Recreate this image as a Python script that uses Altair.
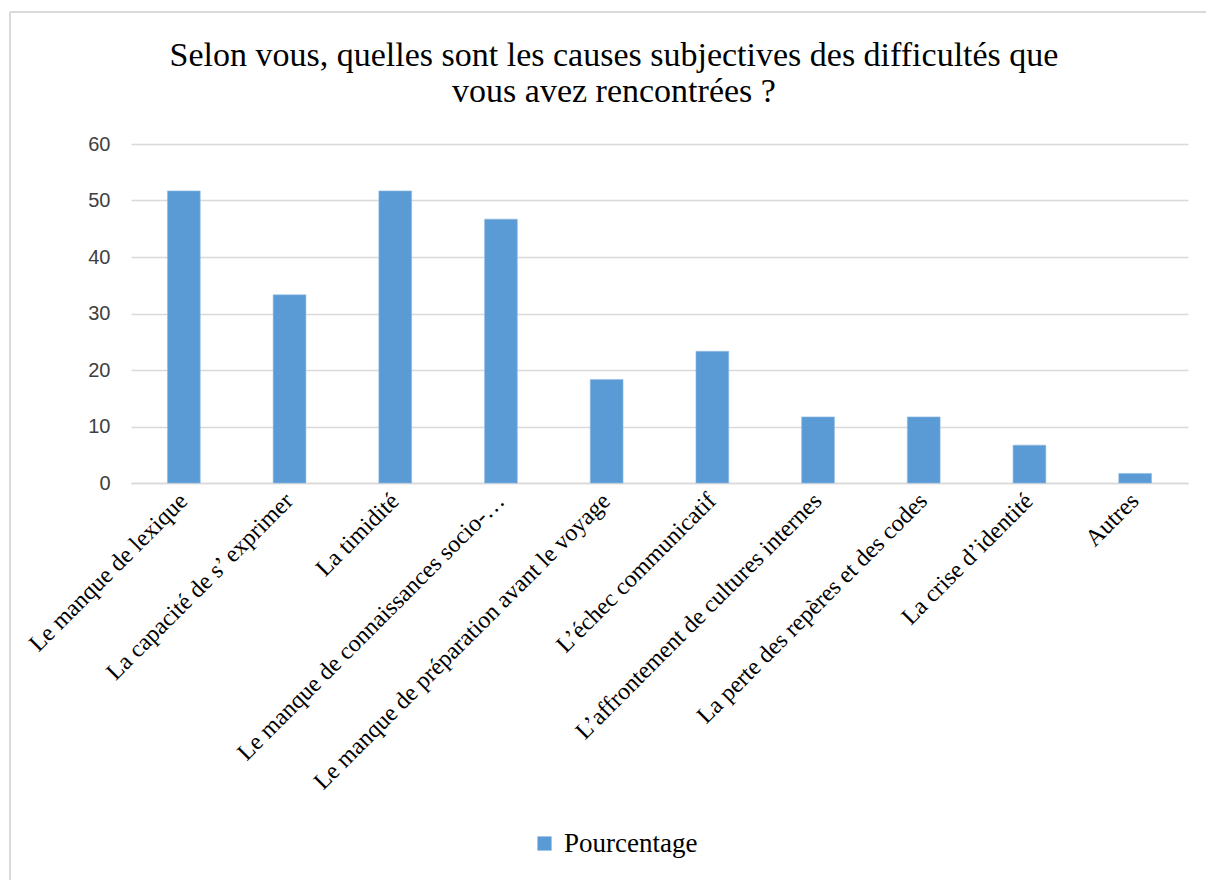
import altair as alt
import pandas as pd

categories = [
    "Le manque de lexique",
    "La capacité de s’ exprimer",
    "La timidité",
    "Le manque de connaissances socio-…",
    "Le manque de préparation avant le voyage",
    "L’échec communicatif",
    "L’affrontement  de cultures  internes",
    "La perte des repères et des codes",
    "La crise d’identité",
    "Autres",
]
values = [51.7, 33.3, 51.7, 46.7, 18.3, 23.3, 11.7, 11.7, 6.7, 1.7]
series = ["Pourcentage"] * len(categories)
y_ticks = [0, 10, 20, 30, 40, 50, 60]
title_lines = [
    "Selon vous, quelles sont les causes subjectives des difficultés que",
    "vous avez rencontrées ?",
]

df = pd.DataFrame({"cause": categories, "value": values, "series": series})

W, H = 1057, 339
LEFT, TOP = 131, 144

bars = alt.Chart(df).mark_bar(color="#5B9BD5", stroke="#8fbbe3", strokeWidth=0.6).encode(
    x=alt.X(
        "cause:N",
        sort=categories,
        title=None,
        scale=alt.Scale(paddingInner=0.69, paddingOuter=0.345),
        axis=alt.Axis(
            labelAngle=-45,
            labelAlign="right",
            labelBaseline="middle",
            labelFont="Liberation Serif",
            labelFontSize=24,
            labelColor="#000000",
            labelPadding=14,
            labelLimit=600,
            ticks=False,
            domainColor="#d9d9d9",
            domainWidth=1.5,
            grid=False,
        ),
    ),
    y=alt.Y(
        "value:Q",
        title=None,
        scale=alt.Scale(domain=[0, 60], nice=False),
        axis=alt.Axis(
            values=y_ticks,
            labelFont="Liberation Sans",
            labelFontSize=20,
            labelColor="#404040",
            labelPadding=21,
            ticks=False,
            domain=False,
            gridColor="#d9d9d9",
            gridWidth=1.5,
        ),
    ),
    color=alt.Color(
        "series:N",
        scale=alt.Scale(range=["#5B9BD5"]),
        legend=alt.Legend(
            title=None,
            orient="none",
            legendX=400,
            legendY=686,
            symbolType="square",
            symbolSize=200,
            symbolStrokeWidth=0,
            labelFont="Liberation Serif",
            labelFontSize=27,
            labelColor="#000000",
            labelLimit=400,
            labelOffset=6,
        ),
    ),
)

border_data = alt.Data(values=[{"k": 1}])
top_rule = alt.Chart(border_data).mark_rule(color="#d9d9d9", strokeWidth=2).encode(
    x=alt.value(10 - LEFT), x2=alt.value(1206 - LEFT), y=alt.value(12 - TOP)
)
left_rule = alt.Chart(border_data).mark_rule(color="#d9d9d9", strokeWidth=2).encode(
    x=alt.value(10 - LEFT), y=alt.value(12 - TOP), y2=alt.value(880 - TOP)
)

title_df = pd.DataFrame({"line": title_lines, "ypix": [66 - TOP, 102 - TOP]})
title_mark = alt.Chart(title_df).mark_text(
    font="Liberation Serif", fontSize=34, color="#000000", align="center", baseline="alphabetic"
).encode(
    x=alt.value(614 - LEFT),
    y=alt.Y("ypix:Q", scale=None, axis=None),
    text="line:N",
)

chart = (
    alt.layer(top_rule, left_rule, title_mark, bars)
    .properties(
        width=W,
        height=H,
        view=alt.ViewBackground(stroke=None, strokeWidth=0),
        autosize=alt.AutoSizeParams(type="none"),
        padding={"left": LEFT, "top": TOP, "right": 1206 - LEFT - W, "bottom": 880 - TOP - H},
    )
    .configure_view(stroke=None, strokeWidth=0)
    .configure(background="white")
)

chart.save("out.html", embed_options={"renderer": "svg", "actions": False})
